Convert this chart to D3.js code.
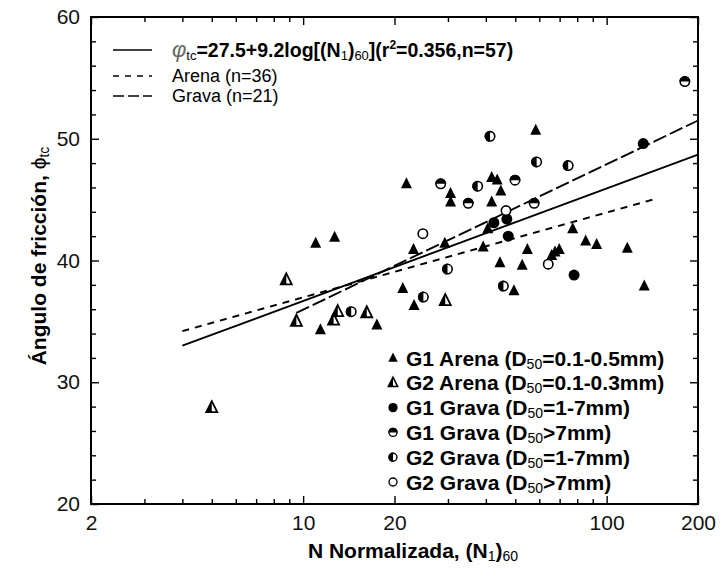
<!DOCTYPE html>
<html>
<head>
<meta charset="utf-8">
<script src="https://cdn.jsdelivr.net/npm/d3@7"></script>
<style>
  body { margin: 0; background: #fff; }
  svg { display: block; font-family: "Liberation Sans", Arial, sans-serif; }
</style>
</head>
<body>
<svg id="chart" width="720" height="569"></svg>
<script>
// ---- data: [N1_60, phi_tc]
const g1Arena = [
  [21.9, 46.3], [30.6, 45.5], [30.6, 44.8], [11.0, 41.4], [12.7, 41.9],
  [23.1, 40.9], [29.3, 41.4], [21.3, 37.7], [23.2, 36.3], [17.5, 34.7],
  [11.4, 34.3], [58.4, 50.7], [41.8, 46.8], [43.6, 46.6], [44.8, 45.7],
  [41.8, 44.8], [40.6, 42.6], [77.3, 42.6], [39.2, 41.1], [54.8, 40.9],
  [85.3, 41.6], [92.7, 41.3], [117, 41.0], [67.6, 40.7], [69.8, 40.9],
  [65.9, 40.4], [44.5, 39.8], [52.7, 39.6], [49.5, 37.5], [133, 37.9]
];
const g2Arena = [
  [8.8, 38.4], [9.5, 35.0], [12.6, 35.1], [13.0, 35.8], [16.2, 35.7],
  [29.4, 36.7], [5.0, 27.9]
];
const g1GravaFine = [
  [46.9, 43.4], [42.5, 43.1], [47.4, 42.0], [78.1, 38.8], [132, 49.6]
];
const g1GravaCoarse = [
  [28.4, 46.3], [35.0, 44.7], [49.9, 46.6], [57.7, 44.7], [181, 54.7]
];
const g2GravaFine = [
  [29.9, 39.3], [24.9, 37.0], [14.4, 35.8], [41.3, 50.2], [58.8, 48.1],
  [74.7, 47.8], [37.6, 46.1], [45.7, 37.9]
];
const g2GravaCoarse = [
  [24.8, 42.2], [46.6, 44.1], [64.2, 39.7]
];

// fitted lines, end points
const fitAll = [[4, 33.0], [200, 48.7]];
const fitArena = [[4, 34.2], [142, 45.0]];
const fitGrava = [[9.5, 35.7], [200, 51.5]];

const xMajor = [2, 10, 20, 100, 200];
const xMinor = [3, 4, 5, 6, 7, 8, 9, 30, 40, 50, 60, 70, 80, 90];
const yMajor = [20, 30, 40, 50, 60];
const yMinor = [22, 24, 26, 28, 32, 34, 36, 38, 42, 44, 46, 48, 52, 54, 56, 58];

const svg = d3.select("#chart");
const mLeft = 91, mRight = 698, mTop = 17, mBottom = 504;

const x = d3.scaleLog().domain([2, 200]).range([mLeft, mRight]);
const y = d3.scaleLinear().domain([20, 60]).range([mBottom, mTop]);

// ---- axes (ticks point inward on all four sides)
function tickAxis(axisFn, scale, values, size, pos, labels) {
  const a = axisFn(scale).tickValues(values).tickSizeInner(size).tickSizeOuter(0);
  if (!labels) a.tickFormat("");
  else a.tickFormat(d3.format("d")).tickPadding(11);
  const g = svg.append("g").attr("transform", pos).call(a);
  g.select(".domain").remove();
  g.selectAll(".tick line").attr("stroke", "#000").attr("stroke-width", 1.4);
  g.selectAll(".tick text").attr("font-size", 21).attr("fill", "#111");
  return g;
}
tickAxis(d3.axisBottom, x, xMajor, -8, `translate(0,${mBottom})`, true);
tickAxis(d3.axisBottom, x, xMinor, -5, `translate(0,${mBottom})`, false);
tickAxis(d3.axisTop, x, xMajor, -8, `translate(0,${mTop})`, false);
tickAxis(d3.axisTop, x, xMinor, -5, `translate(0,${mTop})`, false);
tickAxis(d3.axisLeft, y, yMajor, -8, `translate(${mLeft},0)`, true);
tickAxis(d3.axisLeft, y, yMinor, -5, `translate(${mLeft},0)`, false);
tickAxis(d3.axisRight, y, yMajor, -8, `translate(${mRight},0)`, false);
tickAxis(d3.axisRight, y, yMinor, -5, `translate(${mRight},0)`, false);

svg.append("rect")
  .attr("x", mLeft).attr("y", mTop)
  .attr("width", mRight - mLeft).attr("height", mBottom - mTop)
  .attr("fill", "none").attr("stroke", "#000").attr("stroke-width", 2);

// ---- fit lines
const line = d3.line().x(d => x(d[0])).y(d => y(d[1]));
const lineStyles = [
  { data: fitAll, dash: null },
  { data: fitArena, dash: "7,6" },
  { data: fitGrava, dash: "14,4" }
];
lineStyles.forEach(s => {
  svg.append("path").datum(s.data)
    .attr("d", line)
    .attr("fill", "none").attr("stroke", "#000").attr("stroke-width", 1.9)
    .attr("stroke-dasharray", s.dash);
});

// ---- markers
const R = 5.5;
function tri(g, kind) {
  const h = 11, w = 11;
  if (kind === "full") {
    g.append("path").attr("d", `M0,${-h * 0.6}L${w / 2},${h * 0.4}L${-w / 2},${h * 0.4}Z`)
      .attr("fill", "#000");
  } else {
    g.append("path").attr("d", `M0,${-h * 0.6}L${w / 2},${h * 0.4}L${-w / 2},${h * 0.4}Z`)
      .attr("fill", "#fff").attr("stroke", "#000").attr("stroke-width", 1.8);
    g.append("path").attr("d", `M0,${-h * 0.6}L0,${h * 0.4}L${-w / 2},${h * 0.4}Z`)
      .attr("fill", "#000");
  }
}
function circ(g, kind) {
  if (kind === "full") {
    g.append("circle").attr("r", R).attr("fill", "#000");
    return;
  }
  g.append("circle").attr("r", R - 0.8).attr("fill", "#fff")
    .attr("stroke", "#000").attr("stroke-width", 1.6);
  if (kind === "top") {
    g.append("path").attr("d", `M${-R},0A${R},${R} 0 0 1 ${R},0Z`).attr("fill", "#000");
  } else if (kind === "left") {
    g.append("path").attr("d", `M0,${-R}A${R},${R} 0 0 0 0,${R}Z`).attr("fill", "#000");
  }
}
const groups = [
  { data: g1Arena, draw: g => tri(g, "full") },
  { data: g2Arena, draw: g => tri(g, "half") },
  { data: g1GravaFine, draw: g => circ(g, "full") },
  { data: g1GravaCoarse, draw: g => circ(g, "top") },
  { data: g2GravaFine, draw: g => circ(g, "left") },
  { data: g2GravaCoarse, draw: g => circ(g, "open") }
];
groups.forEach(grp => {
  svg.append("g").selectAll("g").data(grp.data).join("g")
    .attr("transform", d => `translate(${x(d[0])},${y(d[1])})`)
    .each(function () { grp.draw(d3.select(this)); });
});

// ---- top-left legend
const legA = svg.append("g");
[[50, null], [76, "6,6"], [96, "11,4"]].forEach(([yy, dash]) => {
  legA.append("line").attr("x1", 113).attr("x2", 152).attr("y1", yy).attr("y2", yy)
    .attr("stroke", "#000").attr("stroke-width", 1.6).attr("stroke-dasharray", dash);
});
const t1 = legA.append("text").attr("x", 172).attr("y", 57)
  .attr("font-size", 19.5).attr("font-weight", "bold");
t1.append("tspan").text("φ").attr("font-style", "italic").attr("font-weight", "normal")
  .attr("fill", "#666").attr("font-size", 22);
t1.append("tspan").text("tc").attr("font-size", 13).attr("font-weight", "normal").attr("dy", 3);
t1.append("tspan").text("=27.5+9.2log[(N").attr("dy", -3);
t1.append("tspan").text("1").attr("font-size", 13).attr("font-weight", "normal").attr("dy", 3);
t1.append("tspan").text(")").attr("dy", -3);
t1.append("tspan").text("60").attr("font-size", 13).attr("font-weight", "normal").attr("dy", 3);
t1.append("tspan").text("](r").attr("dy", -3);
t1.append("tspan").text("2").attr("font-size", 12).attr("dy", -8);
t1.append("tspan").text("=0.356,n=57)").attr("dy", 8);
legA.append("text").attr("x", 172).attr("y", 82).attr("font-size", 18).text("Arena (n=36)");
legA.append("text").attr("x", 172).attr("y", 102).attr("font-size", 18).text("Grava (n=21)");

// ---- bottom-right legend
const legendLabels = [
  ["G1 Arena (D", "=0.1-0.5mm)"],
  ["G2 Arena (D", "=0.1-0.3mm)"],
  ["G1 Grava (D", "=1-7mm)"],
  ["G1 Grava (D", ">7mm)"],
  ["G2 Grava (D", "=1-7mm)"],
  ["G2 Grava (D", ">7mm)"]
];
const legRowY = d3.scalePoint().domain(d3.range(6)).range([358, 482]);
legendLabels.forEach((lab, i) => {
  const yy = legRowY(i);
  const g = svg.append("g").attr("transform", `translate(393,${yy})`);
  const sym = g.append("g").attr("transform", "scale(0.85)");
  groups[i].draw(sym);
  const t = svg.append("text").attr("x", 406).attr("y", yy + 7.5)
    .attr("font-size", 21).attr("font-weight", "bold");
  t.append("tspan").text(lab[0]);
  t.append("tspan").text("50").attr("font-size", 14).attr("font-weight", "normal").attr("dy", 3);
  t.append("tspan").text(lab[1]).attr("dy", -3);
});

// ---- axis titles
const xt = svg.append("text").attr("x", 413).attr("y", 558)
  .attr("text-anchor", "middle").attr("font-size", 21).attr("font-weight", "bold");
xt.append("tspan").text("N Normalizada, (N");
xt.append("tspan").text("1").attr("font-size", 14).attr("font-weight", "normal").attr("dy", 3);
xt.append("tspan").text(")").attr("dy", -3);
xt.append("tspan").text("60").attr("font-size", 14).attr("font-weight", "normal").attr("dy", 3);

const yt = svg.append("text").attr("transform", "translate(46,256) rotate(-90)")
  .attr("text-anchor", "middle").attr("font-size", 21).attr("font-weight", "bold");
yt.append("tspan").text("Ángulo de fricción, ");
yt.append("tspan").text("ϕ").attr("font-weight", "normal");
yt.append("tspan").text("tc").attr("font-size", 14).attr("font-weight", "normal").attr("dy", 3);
</script>
</body>
</html>
